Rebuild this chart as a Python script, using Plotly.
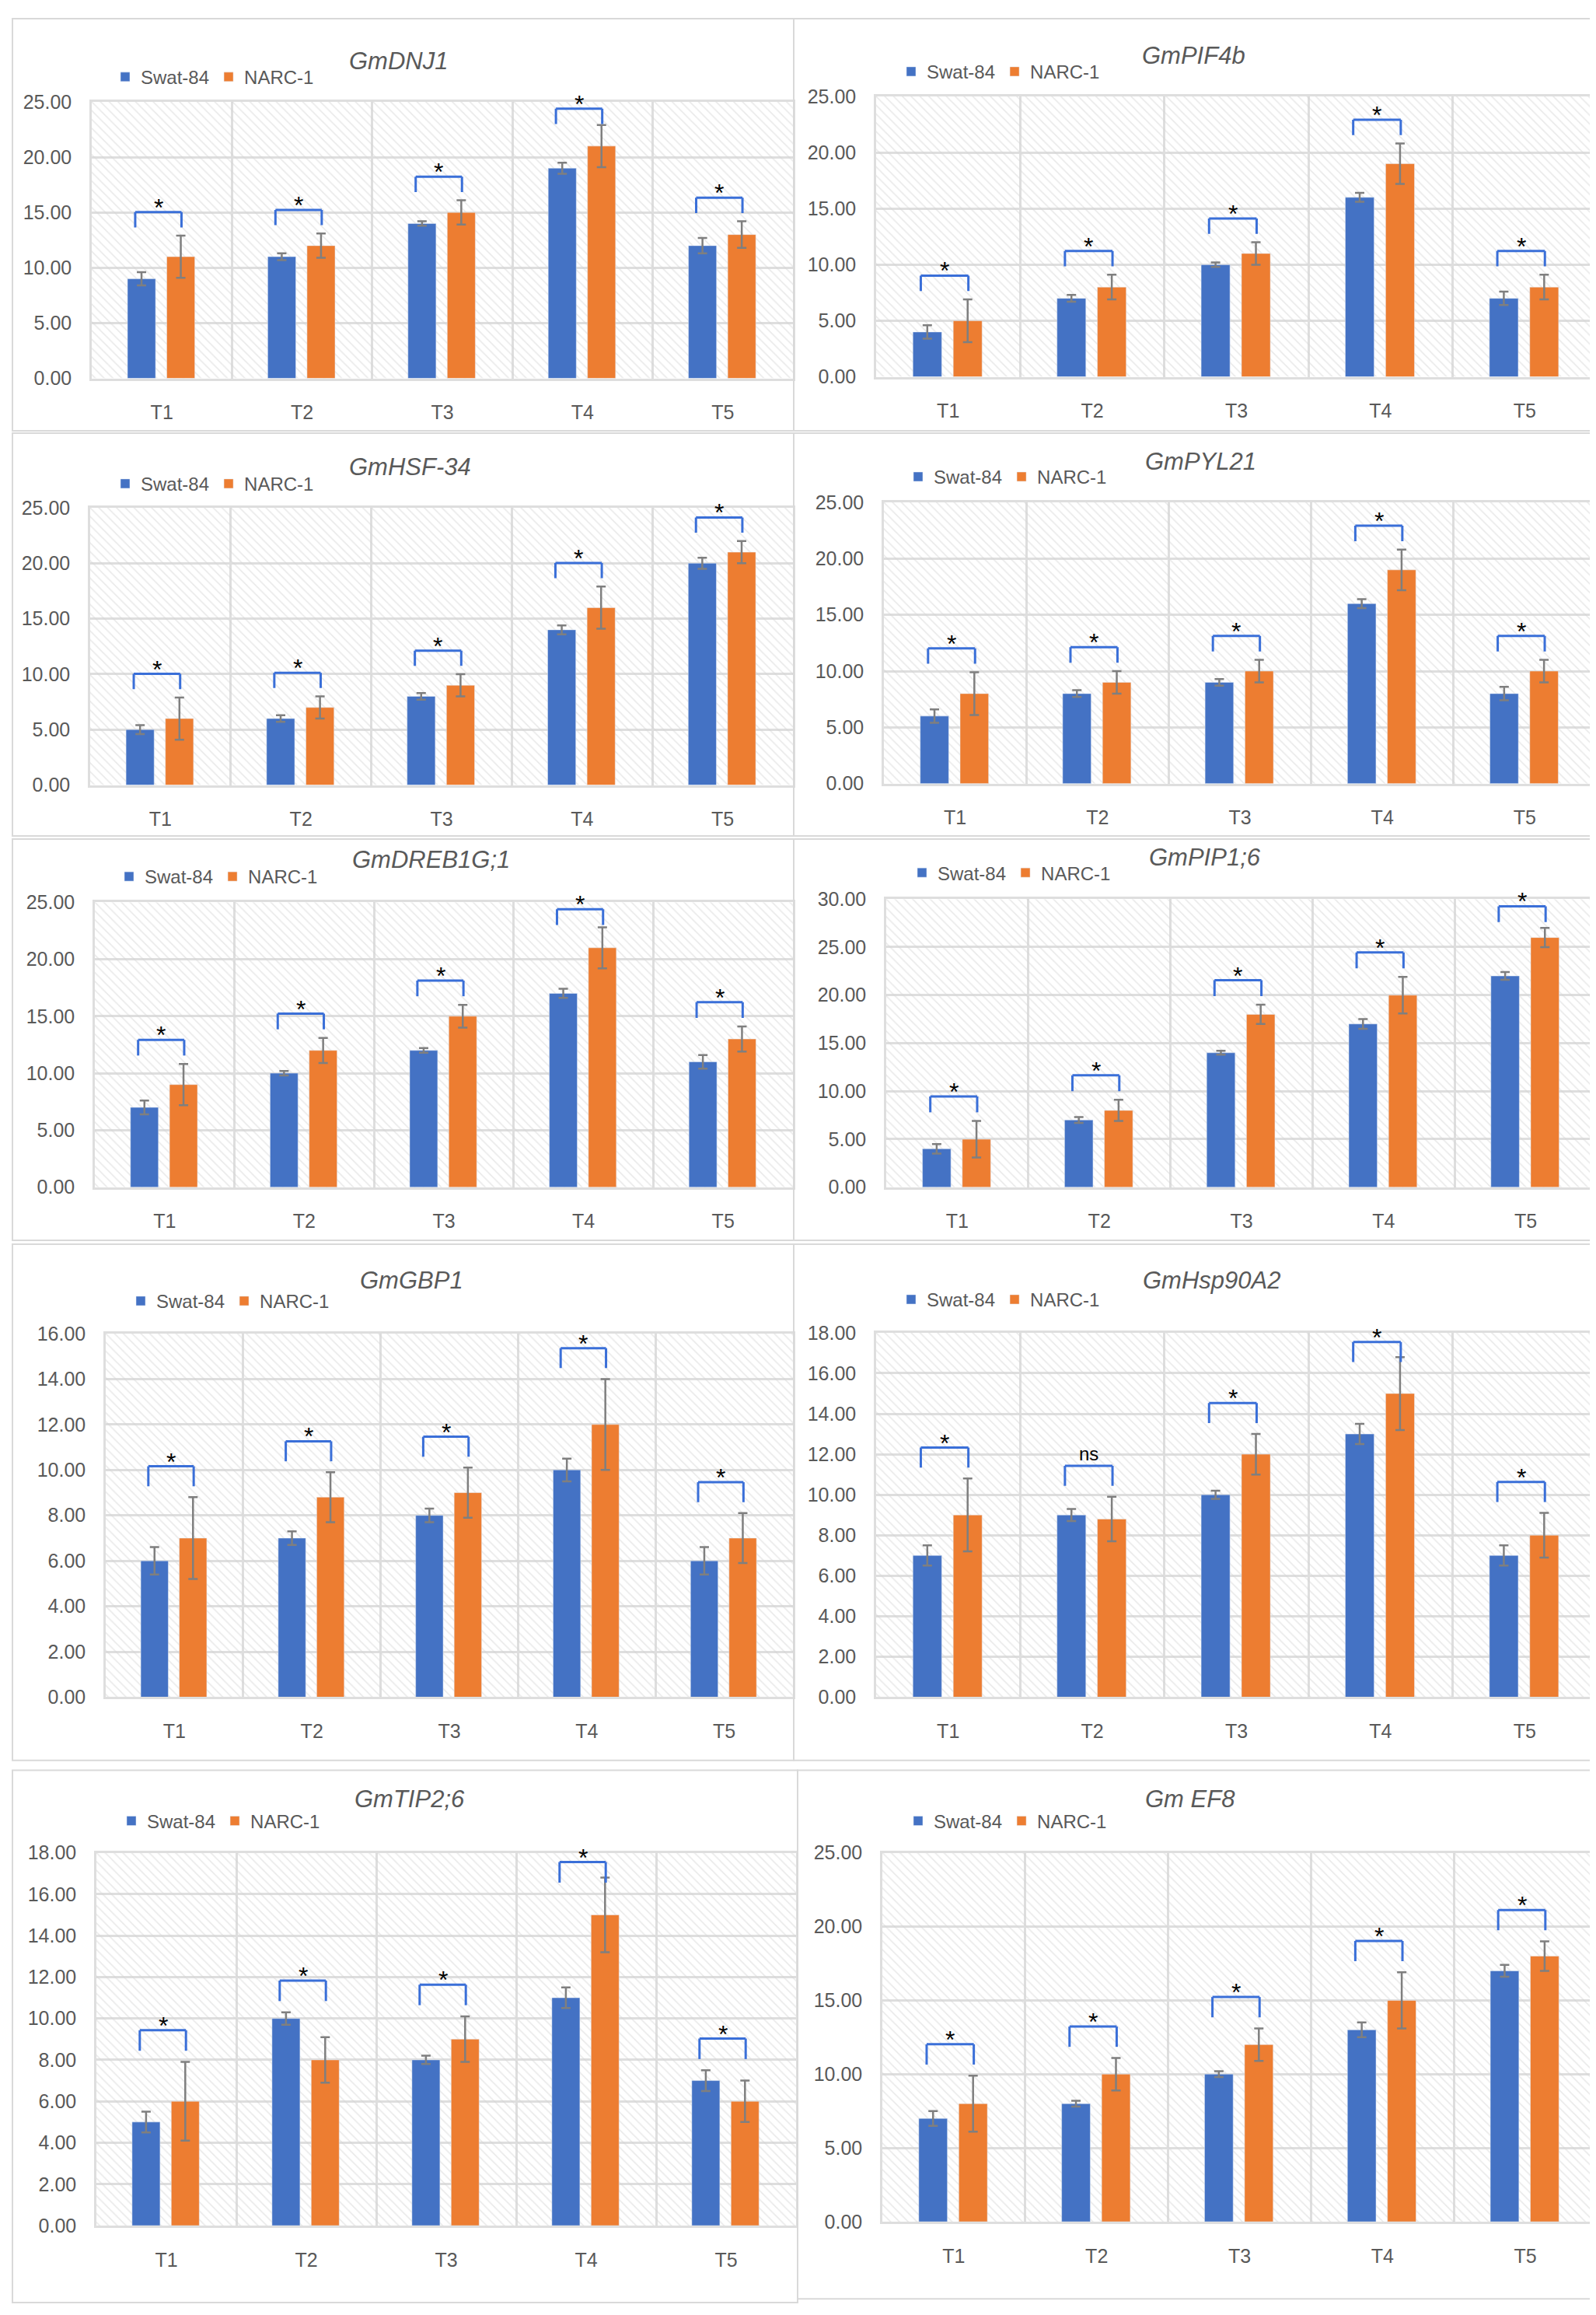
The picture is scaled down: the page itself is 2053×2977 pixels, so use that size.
import plotly.graph_objects as go

# sampling points
periods = ["T1", "T2", "T3", "T4", "T5"]
genes = ["GmDNJ1", "GmPIF4b", "GmHSF-34", "GmPYL21", "GmDREB1G;1",
         "GmPIP1;6", "GmGBP1", "GmHsp90A2", "GmTIP2;6", "Gm EF8"]

# relative expression, Swat-84 / NARC-1, with error bars
dnj1_swat = [9, 11, 14, 19, 12]
dnj1_swat_err = [0.6, 0.3, 0.2, 0.5, 0.7]
dnj1_narc = [11, 12, 15, 21, 13]
dnj1_narc_err = [1.9, 1.1, 1.1, 1.9, 1.2]

pif4b_swat = [4, 7, 10, 16, 7]
pif4b_swat_err = [0.6, 0.3, 0.2, 0.4, 0.6]
pif4b_narc = [5, 8, 11, 19, 8]
pif4b_narc_err = [1.9, 1.1, 1.0, 1.8, 1.1]

hsf34_swat = [5, 6, 8, 14, 20]
hsf34_swat_err = [0.4, 0.3, 0.3, 0.4, 0.5]
hsf34_narc = [6, 7, 9, 16, 21]
hsf34_narc_err = [1.9, 1.0, 1.0, 1.9, 1.0]

pyl21_swat = [6, 8, 9, 16, 8]
pyl21_swat_err = [0.6, 0.3, 0.3, 0.4, 0.6]
pyl21_narc = [8, 9, 10, 19, 10]
pyl21_narc_err = [1.9, 1.0, 1.0, 1.8, 1.0]

dreb_swat = [7, 10, 12, 17, 11]
dreb_swat_err = [0.6, 0.2, 0.2, 0.4, 0.6]
dreb_narc = [9, 12, 15, 21, 13]
dreb_narc_err = [1.8, 1.1, 1.0, 1.8, 1.1]

pip16_swat = [4, 7, 14, 17, 22]
pip16_swat_err = [0.5, 0.3, 0.2, 0.5, 0.4]
pip16_narc = [5, 8, 18, 20, 26]
pip16_narc_err = [1.9, 1.1, 1.0, 1.9, 1.0]

gbp1_swat = [6, 7, 8, 10, 6]
gbp1_swat_err = [0.6, 0.3, 0.3, 0.5, 0.6]
gbp1_narc = [7, 8.8, 9, 12, 7]
gbp1_narc_err = [1.8, 1.1, 1.1, 2.0, 1.1]

hsp90_swat = [7, 9, 10, 13, 7]
hsp90_swat_err = [0.5, 0.3, 0.2, 0.5, 0.5]
hsp90_narc = [9, 8.8, 12, 15, 8]
hsp90_narc_err = [1.8, 1.1, 1.0, 1.8, 1.1]

tip26_swat = [5, 10, 8, 11, 7]
tip26_swat_err = [0.5, 0.3, 0.2, 0.5, 0.5]
tip26_narc = [6, 8, 9, 15, 6]
tip26_narc_err = [1.9, 1.1, 1.1, 1.8, 1.0]

ef8_swat = [7, 8, 10, 13, 17]
ef8_swat_err = [0.5, 0.2, 0.2, 0.5, 0.4]
ef8_narc = [8, 10, 12, 15, 18]
ef8_narc_err = [1.9, 1.1, 1.1, 1.9, 1.0]

swat = [dnj1_swat, pif4b_swat, hsf34_swat, pyl21_swat, dreb_swat,
        pip16_swat, gbp1_swat, hsp90_swat, tip26_swat, ef8_swat]
swat_err = [dnj1_swat_err, pif4b_swat_err, hsf34_swat_err, pyl21_swat_err, dreb_swat_err,
            pip16_swat_err, gbp1_swat_err, hsp90_swat_err, tip26_swat_err, ef8_swat_err]
narc = [dnj1_narc, pif4b_narc, hsf34_narc, pyl21_narc, dreb_narc,
        pip16_narc, gbp1_narc, hsp90_narc, tip26_narc, ef8_narc]
narc_err = [dnj1_narc_err, pif4b_narc_err, hsf34_narc_err, pyl21_narc_err, dreb_narc_err,
            pip16_narc_err, gbp1_narc_err, hsp90_narc_err, tip26_narc_err, ef8_narc_err]

# significance marks
sig = [["*"] * 5 for _ in genes]
sig[7][1] = "ns"

# axis scales
y_max = [25, 25, 25, 25, 25, 30, 16, 18, 18, 25]
y_step = [5, 5, 5, 5, 5, 5, 2, 2, 2, 5]

W, H = 2053, 2977
BLUE = "#4472C4"
ORANGE = "#ED7D31"
GREY = "#595959"
FONT = "Liberation Sans, Arial, sans-serif"

# pixel layout of each panel: plot box, title, legend, frame
plot_box = [(110, 1012, 110, 469), (1119, 2046, 103, 467),
            (108, 1012, 637, 997), (1129, 2045, 630, 995),
            (114, 1012, 1149, 1519), (1132, 2046, 1145, 1519),
            (128, 1012, 1709, 2181), (1119, 2046, 1708, 2181),
            (116, 1016, 2383, 2867), (1127, 2046, 2383, 2862)]
title_pos = [(439, 57), (1459, 50), (439, 584), (1463, 577), (443, 1094),
             (1468, 1091), (453, 1640), (1460, 1640), (446, 2313), (1463, 2313)]
legend_pos = [(147, 78), (1158, 71), (147, 606), (1167, 597), (152, 1116),
              (1172, 1111), (167, 1667), (1158, 1665), (155, 2342), (1167, 2342)]
frames = [(8, 1013, 2, 537), (1013, 2048, 2, 537),
          (8, 1013, 540, 1063), (1013, 2048, 540, 1063),
          (8, 1013, 1067, 1588), (1013, 2048, 1067, 1588),
          (8, 1013, 1593, 2263), (1013, 2048, 1593, 2263),
          (8, 1018, 2276, 2967), (1018, 2048, 2276, 2962)]


def fx(v):
    return v / W


def fy(v):
    return 1 - v / H


fig = go.Figure()
shapes = []
annotations = []
layout = {}

for k, gene in enumerate(genes):
    n = "" if k == 0 else str(k + 1)
    xa, ya, lg = "x" + n, "y" + n, "legend" + n
    ymax = y_max[k]

    # hatched plot background
    fig.add_trace(go.Bar(
        x=periods, y=[ymax] * 5, width=1, xaxis=xa, yaxis=ya,
        marker=dict(color="rgba(0,0,0,0)", line_width=0,
                    pattern=dict(shape="\\", fgcolor="#d4d4d4", bgcolor="rgba(0,0,0,0)",
                                 size=8, solidity=0.2)),
        showlegend=False, hoverinfo="skip"))

    fig.add_trace(go.Bar(
        x=periods, y=swat[k], name="Swat-84", offset=-0.245, width=0.2,
        marker_color=BLUE, xaxis=xa, yaxis=ya, legend=lg,
        error_y=dict(type="data", array=swat_err[k], color="#7f7f7f", thickness=2.5, width=6)))
    fig.add_trace(go.Bar(
        x=periods, y=narc[k], name="NARC-1", offset=0.035, width=0.2,
        marker_color=ORANGE, xaxis=xa, yaxis=ya, legend=lg,
        error_y=dict(type="data", array=narc_err[k], color="#7f7f7f", thickness=2.5, width=6)))

    x0, x1, y0, y1 = plot_box[k]
    layout["xaxis" + n] = dict(
        domain=[fx(x0), fx(x1)], anchor=ya, type="category", range=[-0.5, 4.5],
        tickson="boundaries", ticks="", showgrid=True, gridcolor="#dedede", gridwidth=2.5,
        showline=True, mirror=True, linecolor="#dedede", linewidth=2.5,
        ticklabelstandoff=20, tickfont=dict(size=25, color=GREY, family=FONT))
    layout["yaxis" + n] = dict(
        domain=[fy(y1), fy(y0)], anchor=xa, range=[0, ymax], dtick=y_step[k],
        tickformat=".2f", showgrid=True, gridcolor="#dedede", gridwidth=2.5,
        zeroline=False, showline=True, mirror=True, linecolor="#dedede", linewidth=2.5,
        ticklabelstandoff=18, tickfont=dict(size=25, color=GREY, family=FONT))

    lx, ly = legend_pos[k]
    layout[lg] = dict(x=fx(lx - 14), y=fy(ly), xanchor="left", yanchor="middle",
                      orientation="h", bgcolor="rgba(0,0,0,0)", itemwidth=30,
                      font=dict(size=24, color=GREY, family=FONT))

    tx, ty = title_pos[k]
    annotations.append(dict(xref="paper", yref="paper", x=fx(tx), y=fy(ty),
                            xanchor="left", yanchor="middle", showarrow=False,
                            text="<i>" + gene + "</i>",
                            font=dict(size=31, color=GREY, family=FONT)))

    fx0, fx1, fy0, fy1 = frames[k]
    shapes.append(dict(type="rect", xref="paper", yref="paper",
                       x0=fx(fx0), x1=fx(fx1), y0=fy(fy1), y1=fy(fy0),
                       line=dict(color="#d9d9d9", width=2)))

    # significance brackets
    for i in range(5):
        upper = max(swat[k][i] + swat_err[k][i], narc[k][i] + narc_err[k][i])
        top = min(upper + 0.085 * ymax, 0.975 * ymax)
        leg = 0.055 * ymax
        xl, xr = i - 0.19, i + 0.14
        for (ax0, ay0, ax1, ay1) in [(xl, top - leg, xl, top), (xl, top, xr, top),
                                     (xr, top, xr, top - leg)]:
            shapes.append(dict(type="line", xref=xa, yref=ya, x0=ax0, y0=ay0,
                               x1=ax1, y1=ay1, line=dict(color="#3a6fd8", width=3)))
        star = sig[k][i] == "*"
        annotations.append(dict(xref=xa, yref=ya, x=(xl + xr) / 2, y=top,
                                xanchor="center", yanchor="bottom", showarrow=False,
                                yshift=-14 if star else 0,
                                text=sig[k][i],
                                font=dict(size=32 if star else 24,
                                          color="black", family=FONT)))

fig.update_layout(
    width=W, height=H, margin=dict(l=0, r=0, t=0, b=0),
    paper_bgcolor="white", plot_bgcolor="white",
    barmode="overlay", font=dict(family=FONT, color=GREY),
    shapes=shapes, annotations=annotations, **layout)

fig.write_html("out.html")
